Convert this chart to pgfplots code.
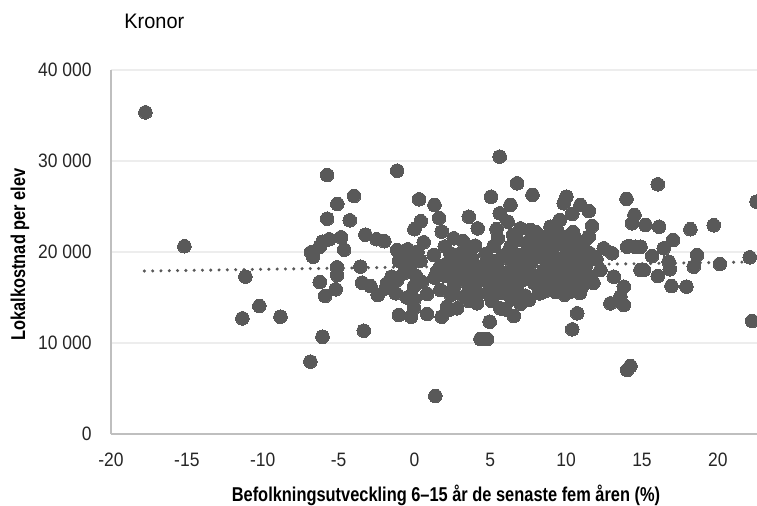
\documentclass[border=0pt]{standalone}
\usepackage{fontspec}
\setmainfont{Liberation Sans}[FakeStretch=0.9]
\newfontfamily\plainfont{Liberation Sans}[FakeStretch=0.95]
\newfontfamily\lblfont{Liberation Sans}[FakeStretch=0.82]
\usepackage{pgfplots}
\pgfplotsset{compat=1.18}
\definecolor{dotc}{HTML}{595959}
\definecolor{gridc}{HTML}{EDEDED}
\definecolor{axc}{HTML}{BFBFBF}
\begin{document}
\begin{tikzpicture}
\begin{axis}[
  scale only axis,
  width=323pt, height=182pt,
  xmin=-20, xmax=22.58, ymin=0, ymax=40000,
  scaled y ticks=false, scaled x ticks=false,
  axis x line*=bottom, axis y line*=left,
  axis line style={draw=axc, line width=0.8pt, -},
  major tick length=0pt,
  xtick={-20,-15,-10,-5,0,5,10,15,20},
  xticklabels={-20,-15,-10,-5,0,5,10,15,20},
  ytick={0,10000,20000,30000,40000},
  yticklabels={0,10 000,20 000,30 000,40 000},
  ymajorgrids, grid style={draw=gridc, line width=0.8pt},
  ticklabel style={font=\fontsize{9.7}{11}\selectfont, text=black!85},
  xticklabel style={inner sep=0pt, anchor=north, yshift=-9.5pt},
  yticklabel style={inner sep=0pt, anchor=east, xshift=-9.5pt},
  every axis title shift=0pt,
  title={Kronor},
  title style={at={(axis description cs:0.0201,1.1154)}, anchor=base west, font=\plainfont\fontsize{10.5}{12}\selectfont, inner sep=0pt},
  xlabel={Befolkningsutveckling 6–15 år de senaste fem åren (\%)},
  xlabel style={at={(axis description cs:0.5186,-0.1868)}, anchor=base, inner sep=0pt, font=\lblfont\bfseries\fontsize{10}{12}\selectfont},
  ylabel={Lokalkostnad per elev},
  ylabel style={at={(axis description cs:-0.1331,0.493)}, anchor=base, rotate=0, inner sep=0pt, font=\lblfont\bfseries\fontsize{10}{12}\selectfont},
]
\addplot[only marks, color=dotc, mark=*, mark size=3.4pt, mark options={draw=dotc, fill=dotc, line width=0pt}] table {
x y
-17.73 35350
-15.16 20630
-11.14 17290
-10.22 14070
-11.34 12710
-8.83 12890
-6.86 7950
-6.06 10690
-5.75 28460
-5.75 23660
-6.81 19970
-6.68 19490
-6.24 20580
-6.06 21130
-5.62 21400
-4.83 21620
-4.63 20250
-5.08 25280
-3.98 26160
-4.26 23480
-6.24 16700
-5.89 15170
-5.19 15900
-5.10 17470
-5.10 18320
-3.56 18390
-3.45 16630
-3.34 11350
-3.23 21900
-2.90 16260
-2.50 21400
-2.42 15280
-1.98 21180
-1.80 16560
-1.23 15460
-1.14 16920
-1.14 28940
-1.14 20220
-1.03 13080
-0.70 17660
-0.44 20300
-0.22 12890
-0.04 16190
-0.04 13810
0.00 14800
0.00 22500
0.31 25790
0.42 23380
0.61 21070
0.40 19050
0.84 15390
0.84 13190
1.27 19670
1.32 25170
1.32 17180
1.38 4180
1.63 23740
1.71 18460
1.71 15830
1.80 22240
1.80 12890
2.15 13990
2.37 19860
2.37 13700
2.48 19310
2.59 21510
2.59 16190
2.59 16920
2.81 13810
3.14 18570
3.25 15090
3.47 16560
3.58 23880
3.58 20410
3.91 18210
4.13 14360
4.17 22600
4.35 16920
4.35 10440
4.79 10440
4.57 18570
4.96 12340
5.01 16190
5.01 15090
5.05 26080
5.23 20660
5.41 22500
5.45 18390
5.62 30480
5.62 24250
5.67 13810
5.89 16560
6.15 23330
6.33 25170
6.33 20580
6.55 18570
6.55 12970
6.77 27550
6.77 15830
6.99 22600
6.99 19670
7.54 14730
7.65 22420
7.65 20220
7.78 26270
7.87 20960
8.19 15460
8.42 19490
8.52 18020
8.75 21320
8.30 15460
8.97 22780
8.97 16920
9.29 21680
9.29 15640
9.41 18390
9.58 23520
9.62 16190
9.84 25350
9.95 19670
10.02 26080
10.07 17660
10.28 15640
10.40 24180
10.40 11500
10.46 22170
10.73 19310
10.73 13260
10.94 25170
10.94 18020
11.05 16190
11.16 21130
11.49 24510
11.49 21680
11.56 19860
11.60 17290
11.71 22860
12.26 18020
12.48 20410
12.92 14360
13.03 19860
13.14 17290
13.58 15090
13.80 16190
13.80 14180
13.98 25830
14.02 20580
14.02 7030
14.24 7470
14.35 23160
14.50 24070
14.57 20580
14.13 20660
14.90 20580
14.90 18020
15.12 18020
15.23 22970
15.67 19560
16.04 27440
16.04 17360
16.13 22780
16.43 20410
16.76 18940
16.83 18100
16.94 16260
17.05 21320
17.93 16190
18.19 22500
18.41 18390
18.63 19670
19.73 22940
20.13 18680
22.10 19420
22.26 12420
22.55 25530
-0.90 19500
-0.60 18600
-0.30 18000
0.10 17400
0.50 16700
-1.50 17300
-1.90 16000
-0.50 15000
0.20 20000
-1.00 19000
-0.20 19300
1.50 17900
2.00 17400
2.20 18800
2.80 17700
3.00 19800
3.30 17400
3.60 16000
3.80 19300
4.00 17000
4.20 15500
4.50 17600
4.70 19800
4.90 17300
5.10 14600
5.30 19000
5.50 17000
5.70 15500
5.80 19600
6.00 17700
6.10 16300
6.30 19100
6.40 14800
6.60 17300
6.80 21300
7.00 16800
7.10 18200
7.30 19400
7.30 15200
7.50 17700
7.70 18800
7.90 16600
8.00 19900
8.10 17400
8.30 21700
8.50 16400
8.70 20500
8.80 17300
8.90 18900
9.10 19900
9.20 17000
9.30 20800
9.50 17800
9.70 19000
9.80 20900
10.00 16800
10.10 18600
10.30 20400
10.50 16900
10.60 21500
10.80 17500
11.00 20200
11.30 18500
11.80 16600
12.00 19200
8.60 15700
9.90 15300
10.90 15500
7.00 14300
6.00 13700
3.60 14600
2.40 15300
8.00 22200
9.00 21900
9.40 22400
10.20 21800
5.50 21500
6.50 21900
7.40 21000
4.00 20700
2.00 20600
3.20 21200
};
\addplot[dotc, line width=1.7pt, line cap=round, dash pattern=on 0pt off 4.15pt] table {
x y
-17.8 17905
22.6 18915
};
\end{axis}
\pgfresetboundingbox
\useasboundingbox (-55.5pt,-35.5pt) rectangle (323pt,217pt);
\end{tikzpicture}
\end{document}
